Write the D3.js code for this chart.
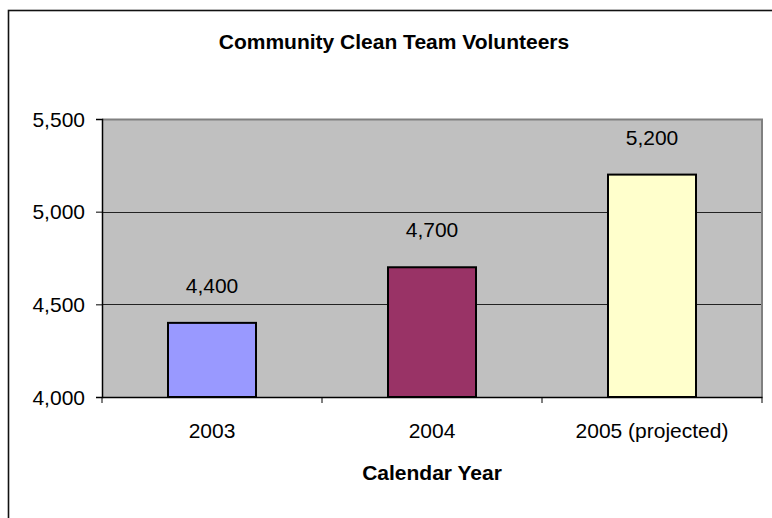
<!DOCTYPE html>
<html>
<head>
<meta charset="utf-8">
<script src="https://cdn.jsdelivr.net/npm/d3@7"></script>
<style>
  html, body { margin: 0; padding: 0; background: #fff; }
  svg { display: block; }
  text { font-family: "Liberation Sans", Arial, sans-serif; fill: #000; }
</style>
</head>
<body>
<script>
// Volunteer counts by year
const categories = ["2003", "2004", "2005 (projected)"];
const volunteers = [4400, 4700, 5200];
const barColors = ["#9999FF", "#993366", "#FFFFCC"];
const yTicks = [4000, 4500, 5000, 5500];
const titleText = "Community Clean Team Volunteers";
const xAxisTitle = "Calendar Year";

const W = 772, H = 518;
const plot = { left: 102, right: 762, top: 119, bottom: 397 };
const fontSize = 21;

const svg = d3.select("body").append("svg")
  .attr("width", W).attr("height", H);

// chart area frame
svg.append("rect")
  .attr("x", 8.5).attr("y", 10.5)
  .attr("width", 800).attr("height", 600)
  .attr("fill", "#fff")
  .attr("stroke", "#111").attr("stroke-width", 1.6);

const x = d3.scaleBand()
  .domain(categories)
  .range([plot.left, plot.right])
  .paddingInner(0.6).paddingOuter(0.3);

const xOuter = d3.scaleBand()
  .domain(categories)
  .range([plot.left, plot.right]);

const y = d3.scaleLinear()
  .domain([4000, 5500])
  .range([plot.bottom, plot.top]);

// plot background
svg.append("rect")
  .attr("x", plot.left).attr("y", plot.top)
  .attr("width", plot.right - plot.left)
  .attr("height", plot.bottom - plot.top)
  .attr("fill", "#C0C0C0");

// plot border (top and right, grey)
svg.append("path")
  .attr("d", `M${plot.left},${plot.top + 0.5}H${plot.right}V${plot.bottom}`)
  .attr("fill", "none")
  .attr("stroke", "#808080").attr("stroke-width", 2);

// gridlines
svg.append("g")
  .selectAll("line")
  .data(yTicks.filter(t => t > 4000 && t < 5500))
  .join("line")
  .attr("x1", plot.left).attr("x2", plot.right - 1)
  .attr("y1", d => Math.round(y(d)) + 0.5)
  .attr("y2", d => Math.round(y(d)) + 0.5)
  .attr("stroke", "#222").attr("stroke-width", 1);

// bars
svg.append("g")
  .selectAll("rect")
  .data(categories)
  .join("rect")
  .attr("x", d => x(d))
  .attr("y", (d, i) => y(volunteers[i]))
  .attr("width", x.bandwidth())
  .attr("height", (d, i) => y(4000) - y(volunteers[i]))
  .attr("fill", (d, i) => barColors[i])
  .attr("stroke", "#000").attr("stroke-width", 2);

// value labels
const fmt = d3.format(",");
svg.append("g")
  .selectAll("text")
  .data(categories)
  .join("text")
  .attr("x", d => x(d) + x.bandwidth() / 2)
  .attr("y", (d, i) => y(volunteers[i]) - 30)
  .attr("text-anchor", "middle")
  .style("font-size", fontSize + "px")
  .text((d, i) => fmt(volunteers[i]));

// y axis
const yAxis = svg.append("g")
  .attr("transform", `translate(${plot.left},0)`)
  .call(d3.axisLeft(y).tickValues(yTicks).tickFormat(fmt).tickSize(6).tickPadding(11));
yAxis.select(".domain").attr("stroke", "#000").attr("stroke-width", 1.5);
yAxis.selectAll(".tick line").attr("stroke", "#000");
yAxis.selectAll("text")
  .style("font-size", fontSize + "px")
  .style("font-family", "'Liberation Sans', Arial, sans-serif")
  .attr("dy", "0.34em");

// x axis
const xAxis = svg.append("g")
  .attr("transform", `translate(0,${plot.bottom})`)
  .call(d3.axisBottom(xOuter).tickSize(0).tickPadding(26));
xAxis.select(".domain").attr("stroke", "#000").attr("stroke-width", 1.5);
xAxis.selectAll("text")
  .style("font-size", fontSize + "px")
  .style("font-family", "'Liberation Sans', Arial, sans-serif");

// x-axis tick marks at category boundaries
const bounds = categories.map(c => xOuter(c)).concat([plot.right]);
svg.append("g")
  .selectAll("line")
  .data(bounds)
  .join("line")
  .attr("x1", d => d).attr("x2", d => d)
  .attr("y1", plot.bottom).attr("y2", plot.bottom + 6)
  .attr("stroke", "#000").attr("stroke-width", 1);

// chart title
svg.append("text")
  .attr("x", 394).attr("y", 49)
  .attr("text-anchor", "middle")
  .style("font-size", fontSize + "px")
  .style("font-weight", "bold")
  .text(titleText);

// x-axis title
svg.append("text")
  .attr("x", (plot.left + plot.right) / 2).attr("y", 480)
  .attr("text-anchor", "middle")
  .style("font-size", fontSize + "px")
  .style("font-weight", "bold")
  .text(xAxisTitle);
</script>
</body>
</html>
